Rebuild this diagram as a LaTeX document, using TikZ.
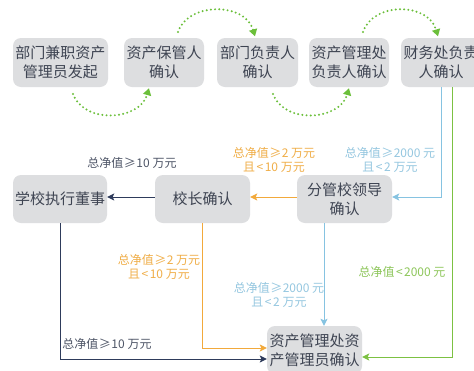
\documentclass[tikz,border=0pt]{standalone}
\usepackage{fontspec}
\setmainfont{Noto Sans CJK SC}
\usetikzlibrary{arrows.meta,calc}
\definecolor{boxfill}{HTML}{DDDEE0}
\definecolor{boxtext}{HTML}{3E4452}
\definecolor{navy}{HTML}{2E3B5B}
\definecolor{orng}{HTML}{F2A93B}
\definecolor{lblue}{HTML}{86C3E1}
\definecolor{grn}{HTML}{7CC142}
\definecolor{dotgrn}{HTML}{6BBF3A}
\definecolor{navylab}{HTML}{4E5567}
\definecolor{orlab}{HTML}{F0AE48}
\definecolor{bllab}{HTML}{95C7E0}
\definecolor{grlab}{HTML}{8DC65A}
\newcommand{\GE}{\kern0.5pt≥\kern0.5pt}
\newcommand{\LT}{\kern1.5pt<\kern1.5pt}
\tikzset{
  stepbox/.style={fill=boxfill, rounded corners=8pt, align=center, text=boxtext,
    inner sep=0pt, font=\fontsize{15}{19}\selectfont, minimum height=49pt},
  lab/.style={align=center, inner sep=0pt, font=\fontsize{12}{14.5}\selectfont},
  flow/.style={line width=1pt, -{Stealth[length=7pt,width=7pt,inset=1.5pt]}},
  dotflow/.style={dotgrn, line width=2.2pt, line cap=round, dash pattern=on 0pt off 4.2pt,
    -{Triangle[length=7pt,width=8pt]}}
}
\begin{document}
\begin{tikzpicture}[x=1pt,y=-1pt]
\useasboundingbox (0,0) rectangle (474,370);
\fill[white] (0,0) rectangle (474,370);
% top row
\node[stepbox, minimum width=95pt] (b1) at (60.5,62.5) {部门兼职资产\\管理员发起};
\node[stepbox, minimum width=80pt] (b2) at (164,62.5) {资产保管人\\确认};
\node[stepbox, minimum width=81pt] (b3) at (257.5,62.5) {部门负责人\\确认};
\node[stepbox, minimum width=80pt] (b4) at (349,62.5) {资产管理处\\负责人确认};
\node[stepbox, minimum width=80pt] (b5) at (441,62.5) {财务处负责\\人确认};
% middle row
\node[stepbox, minimum width=94pt, minimum height=48pt] (s1) at (60,199) {学校执行董事};
\node[stepbox, minimum width=95pt, minimum height=48pt] (s2) at (202.5,199) {校长确认};
\node[stepbox, minimum width=95pt, minimum height=48pt] (s3) at (344.5,199) {分管校领导\\确认};
% bottom
\node[stepbox, minimum width=95pt, minimum height=48pt] (bot) at (314.5,350) {资产管理处资\\产管理员确认};
% dotted curves
\coordinate (c1) at (73,94);
\coordinate (c2) at (178,32);
\coordinate (c3) at (273,94);
\coordinate (c4) at (363,32);
\draw[dotflow] (c1) .. controls (85,125) and (140,120) .. ([xshift=-15pt,yshift=-1pt]b2.south);
\draw[dotflow] (c2) .. controls (188,2) and (245,2) .. ([xshift=-2.5pt,yshift=1.5pt]b3.north);
\draw[dotflow] (c3) .. controls (285,125) and (340,120) .. ([yshift=-1pt]b4.south);
\draw[dotflow] (c4) .. controls (373,2) and (428,2) .. ([xshift=-3pt,yshift=1.5pt]b5.north);
% connectors
\draw[flow, lblue] (b5.south) |- ([yshift=2pt]s3.east);
\draw[flow, grn] ([xshift=11pt]b5.south) |- ([yshift=-7pt]bot.east);
\draw[flow, orng] ([yshift=2pt]s3.west) -- ([yshift=2pt]s2.east);
\draw[flow, navy] ([yshift=2pt]s2.west) -- ([yshift=2pt]s1.east);
\draw[flow, lblue] ([xshift=-20.5pt]s3.south) -- ([xshift=-20.5pt]s3.south |- bot.north);
\draw[flow, orng] (s2.south) |- ([yshift=2pt]bot.west);
\draw[flow, navy] (s1.south) |- ([yshift=-9pt]bot.west);
% labels
\node[lab, text=navylab] (l1) at (132,163) {总净值\GE10 万元};
\node[lab, text=orlab] (l2) at (274,160) {总净值\GE2 万元\\且\LT10 万元};
\node[lab, text=bllab] (l3) at (390,160) {总净值\GE2000 元\\且\LT2 万元};
\node[lab, text=orlab] (l4) at (159,267) {总净值\GE2 万元\\且\LT10 万元};
\node[lab, text=bllab] (l5) at (279,295) {总净值\GE2000 元\\且\LT2 万元};
\node[lab, text=grlab] (l6) at (402,272) {总净值\LT2000 元};
\node[lab, text=navylab] (l7) at (107,344) {总净值\GE10 万元};
\end{tikzpicture}
\end{document}
